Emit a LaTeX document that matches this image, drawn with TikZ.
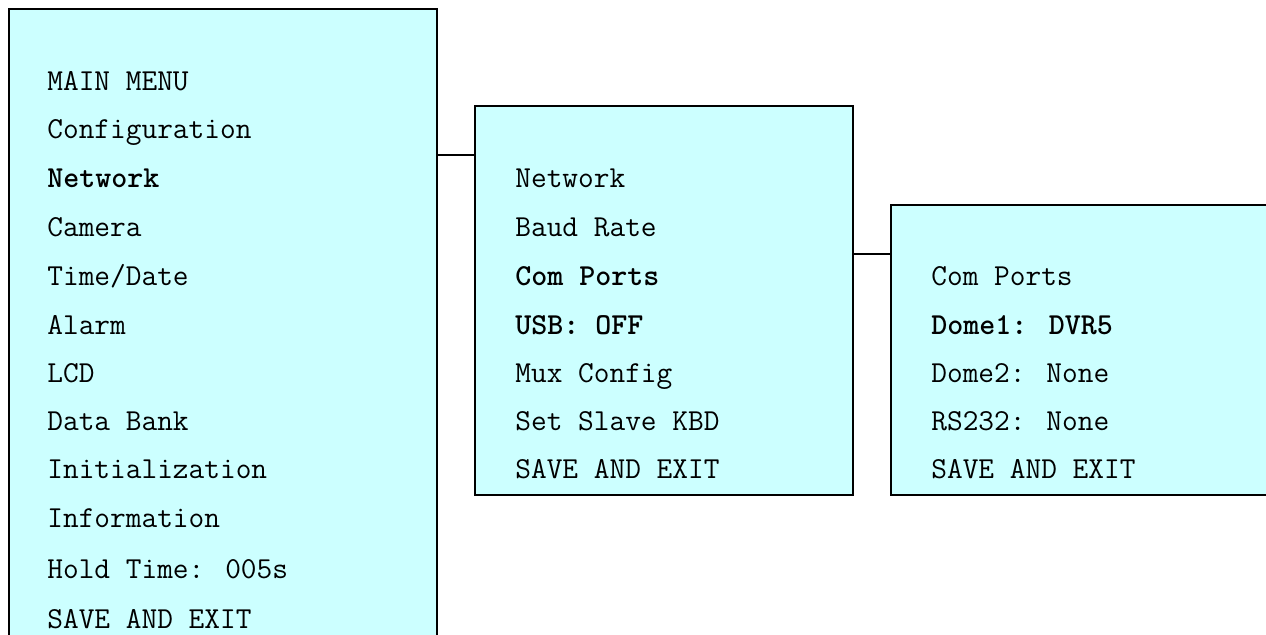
\documentclass[tikz,border=0pt]{standalone}
\usepackage{xcolor}
\usepackage{tikz}
\usetikzlibrary{positioning,calc}

\definecolor{menucyan}{RGB}{204,255,255}
\newcommand{\menufont}{\ttfamily\fontsize{15.24pt}{18pt}\selectfont}

\begin{document}
\begin{tikzpicture}[x=0.5pt,y=-0.5pt,
  menubox/.style={draw,line width=1pt,fill=menucyan,anchor=north west,inner sep=0pt},
  menuitem/.style={anchor=base west,inner sep=0pt,font=\menufont}]
\clip (0,0) rectangle (1266,634);

% the three menu panels
\node[menubox,minimum width=214pt,minimum height=350pt] (mainmenu) at (8,8) {};
\node[menubox,minimum width=189pt,minimum height=194.5pt] (netmenu) at (474,105) {};
\node[menubox,minimum width=200pt,minimum height=145pt] (commenu) at (890,204) {};

% entries
\foreach \y/\t [count=\i] in {90/MAIN MENU, 138.5/Configuration, 187/\textbf{Network},
    236.5/Camera, 285.5/{Time/Date}, 334/Alarm, 382/LCD, 430/Data Bank,
    478.5/Initialization, 527.5/Information, 578/Hold Time: 005s, 628/SAVE AND EXIT}
  \node[menuitem] (main\i) at (47,\y) {\t};
\foreach \y/\t [count=\i] in {187/Network, 236.5/Baud Rate, 285.5/\textbf{Com Ports},
    334/\textbf{USB: OFF}, 382/Mux Config, 430/Set Slave KBD, 478.5/SAVE AND EXIT}
  \node[menuitem] (net\i) at (515,\y) {\t};
\foreach \y/\t [count=\i] in {285.5/Com Ports, 334/\textbf{Dome1: DVR5}, 382/Dome2: None,
    430/RS232: None, 478.5/SAVE AND EXIT}
  \node[menuitem] (com\i) at (931,\y) {\t};

% links between panels
\coordinate (netjoin) at ($(netmenu.north west)+(0,50)$);
\coordinate (comjoin) at ($(commenu.north west)+(0,50)$);
\draw[line width=1pt] (mainmenu.east |- netjoin) -- (netjoin);
\draw[line width=1pt] (netmenu.east |- comjoin) -- (comjoin);
\end{tikzpicture}
\end{document}
